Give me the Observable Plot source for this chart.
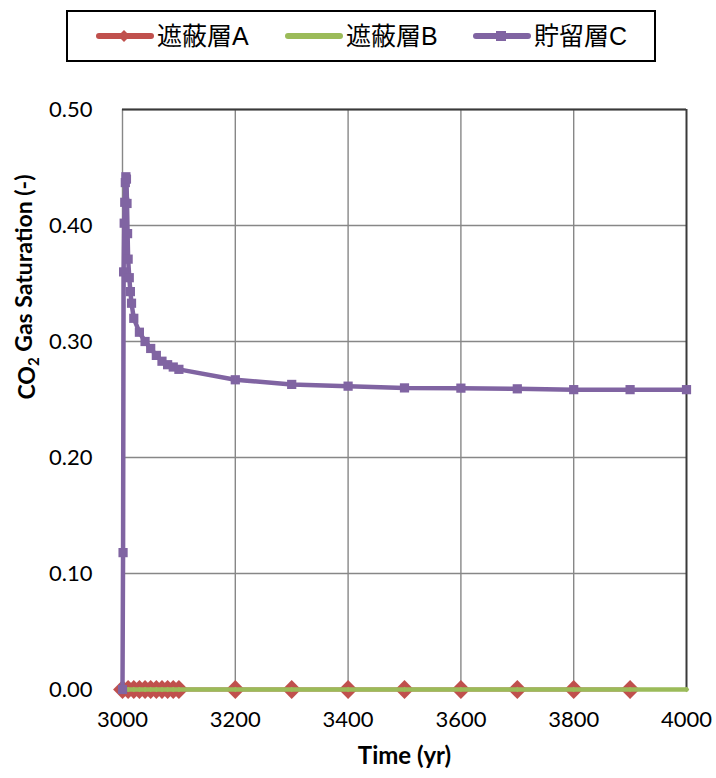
<!DOCTYPE html>
<html>
<head>
<meta charset="utf-8">
<script src="https://cdn.jsdelivr.net/npm/d3@7"></script>
<script src="https://cdn.jsdelivr.net/npm/@observablehq/plot@0.6"></script>
<style>
  html, body { margin: 0; padding: 0; background: #fff; }
  #wrap { width: 716px; height: 778px; position: relative; }
  #legend-area { height: 70px; position: relative; }
  #legend {
    position: absolute; left: 66px; top: 10px; width: 586px; height: 48px;
    border: 2px solid #000; box-sizing: content-box;
    font-family: "Liberation Sans", "Noto Sans CJK JP", sans-serif; font-size: 25px; color: #000;
  }
  .item { position: absolute; display: flex; align-items: center; top: 7px; line-height: 34px; }
  .item svg { display: block; margin-right: 3px; }
</style>
</head>
<body>
<div id="wrap">
  <div id="legend-area"><div id="legend"></div></div>
  <div id="chart"></div>
</div>
<script>
// Series names and colours
const seriesNames = ["遮蔽層A", "遮蔽層B", "貯留層C"];
const seriesColors = ["#C0504D", "#9BBB59", "#8064A2"];

// Time axis ticks (yr) and saturation ticks
const xTicks = [3000, 3200, 3400, 3600, 3800, 4000];
const yTicks = [0, 0.1, 0.2, 0.3, 0.4, 0.5];

// Cap rock A: output times and saturation
const timeA = [3000, 3010, 3020, 3030, 3040, 3050, 3060, 3070, 3080, 3090, 3100,
               3200, 3300, 3400, 3500, 3600, 3700, 3800, 3900];
const satA = [0, 0, 0, 0, 0, 0, 0, 0, 0, 0, 0, 0, 0, 0, 0, 0, 0, 0, 0];

// Cap rock B: output times and saturation
const timeB = [3000, 3010, 3020, 3030, 3040, 3050, 3060, 3070, 3080, 3090, 3100,
               3200, 3300, 3400, 3500, 3600, 3700, 3800, 3900, 4000];
const satB = [0, 0, 0, 0, 0, 0, 0, 0, 0, 0, 0, 0, 0, 0, 0, 0, 0, 0, 0, 0];

// Reservoir layer C: output times and CO2 gas saturation
const timeC = [3000, 3001, 3002, 3003, 3004, 3005, 3006, 3007, 3008, 3009, 3010,
               3012, 3014, 3016, 3020, 3030, 3040, 3050, 3060, 3070, 3080, 3090, 3100,
               3200, 3300, 3400, 3500, 3600, 3700, 3800, 3900, 4000];
const satC = [0.000, 0.118, 0.360, 0.402, 0.420, 0.437, 0.442, 0.440, 0.419, 0.393, 0.371,
              0.355, 0.343, 0.333, 0.320, 0.308, 0.300, 0.294, 0.288, 0.283, 0.280, 0.278, 0.276,
              0.267, 0.263, 0.2615, 0.260, 0.2598, 0.2592, 0.2585, 0.2585, 0.2585];

const rowsA = timeA.map((t, i) => ({t, s: satA[i]}));
const rowsB = timeB.map((t, i) => ({t, s: satB[i]}));
const rowsC = timeC.map((t, i) => ({t, s: satC[i]}));

const chart = Plot.plot({
  width: 716,
  height: 708,
  marginLeft: 122,
  marginRight: 30,
  marginTop: 39,
  marginBottom: 89,
  style: {fontFamily: "Lato, 'Open Sans', sans-serif", fontSize: "21px", color: "#000", background: "#fff", overflow: "visible"},
  x: {domain: [3000, 4000], label: null},
  y: {domain: [0, 0.5], label: null},
  marks: [
    Plot.gridX(xTicks.slice(1, -1), {stroke: "#878787", strokeOpacity: 1, strokeWidth: 1.4}),
    Plot.gridY(yTicks.slice(1), {stroke: "#878787", strokeOpacity: 1, strokeWidth: 1.4}),
    Plot.ruleX([3000], {stroke: "#878787", strokeWidth: 1.4}),
    Plot.ruleY([0], {stroke: "#878787", strokeWidth: 1.4}),
    Plot.ruleY([0.5], {stroke: "#3a3a3a", strokeWidth: 2}),
    Plot.ruleX([4000], {stroke: "#3a3a3a", strokeWidth: 2}),
    Plot.axisX(xTicks, {tickSize: 0, tickPadding: 22, tickFormat: "d", label: null, fontSize: 22}),
    Plot.axisY(yTicks, {tickSize: 0, tickPadding: 30, tickFormat: ".2f", label: null, fontSize: 22}),
    Plot.text(["Time (yr)"], {frameAnchor: "bottom", dy: 74, fontWeight: "bold", fontSize: 24}),
    Plot.text(["CO2 Gas Saturation (-)"], {frameAnchor: "left", dx: -95, rotate: -90, fontWeight: "bold", fontSize: 23}),
    // Cap rock A
    Plot.line(rowsA, {x: "t", y: "s", stroke: seriesColors[0], strokeWidth: 4}),
    Plot.dot(rowsA, {x: "t", y: "s", symbol: "diamond2", r: 8.5, fill: seriesColors[0], stroke: "none"}),
    // Cap rock B
    Plot.line(rowsB, {x: "t", y: "s", stroke: seriesColors[1], strokeWidth: 4.5}),
    Plot.dot(rowsB, {x: "t", y: "s", symbol: "diamond2", r: 2.5, fill: seriesColors[1], stroke: "none"}),
    // Reservoir C
    Plot.line(rowsC, {x: "t", y: "s", stroke: seriesColors[2], strokeWidth: 4.5}),
    Plot.dot(rowsC, {x: "t", y: "s", symbol: "square", r: 5.2, fill: seriesColors[2], stroke: "none"})
  ]
});

// Subscript the "2" in the y-axis title
d3.select(chart).selectAll("text").each(function() {
  if (this.textContent === "CO2 Gas Saturation (-)") {
    const el = d3.select(this);
    el.text(null);
    el.append("tspan").text("CO");
    el.append("tspan").attr("font-size", 15).attr("dy", "0.3em").text("2");
    el.append("tspan").attr("dy", "-0.3em").text(" Gas Saturation (-)");
  }
});

document.getElementById("chart").appendChild(chart);

// Legend entries: line swatch with marker, followed by the series name
const legend = d3.select("#legend");
const itemLeft = [28, 217, 405];
const markers = [
  g => g.append("path").attr("d", "M28,3 L34,9 L28,15 L22,9 Z"),
  g => g.append("path").attr("d", "M28,6 L31,9 L28,12 L25,9 Z"),
  g => g.append("rect").attr("x", 23).attr("y", 4).attr("width", 10).attr("height", 10)
];
seriesNames.forEach((name, i) => {
  const item = legend.append("div").attr("class", "item").style("left", itemLeft[i] + "px");
  const sw = item.append("svg").attr("width", 58).attr("height", 18);
  sw.append("line").attr("x1", 3).attr("x2", 55).attr("y1", 9).attr("y2", 9)
    .attr("stroke", seriesColors[i]).attr("stroke-width", 6).attr("stroke-linecap", "round");
  markers[i](sw.append("g").attr("fill", seriesColors[i]));
  item.append("span").text(name);
});
</script>
</body>
</html>
